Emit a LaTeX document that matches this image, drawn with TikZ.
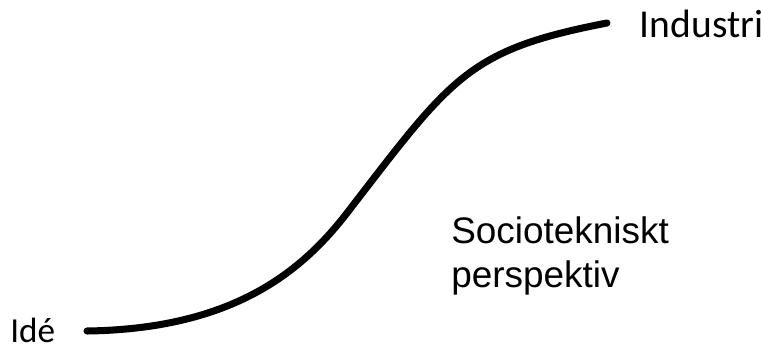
\documentclass[tikz,border=0pt]{standalone}
\usepackage{fontspec}
\setmainfont{Carlito}
\newfontfamily\arialfont{Liberation Sans}
\usetikzlibrary{positioning}

\begin{document}
\begin{tikzpicture}[line cap=round, curve/.style={line width=4pt}, label/.style={inner sep=0pt, anchor=base west}]
        \useasboundingbox (0,0) rectangle (15.22,6.92);
        \node[label, font=\fontsize{20}{24}\selectfont] (ide) at (0.20,0.08) {Idé};
        \node[label, font=\fontsize{22.5}{27}\selectfont] (industri) at (12.79,6.18) {Industri};
        % base anchor sits on the last line
        \node[label, align=left, font=\arialfont\fontsize{21}{25}\selectfont] (perspektiv) at (9.02,1.18) {Sociotekniskt\\perspektiv};

        \coordinate (start) at (1.74,0.30);
        \coordinate (mid) at (6.94,2.66);
        \coordinate (end) at (12.14,6.46);

        \draw[curve] (start) .. controls (4.60,0.34) and (6.00,1.44) .. (mid)
                .. controls (9.04,5.38) and (9.34,5.92) .. (end);
    \end{tikzpicture}
\end{document}
